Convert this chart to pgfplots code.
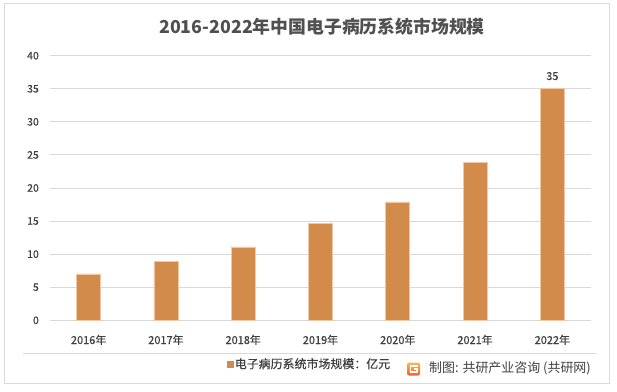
\documentclass[border=0pt]{standalone}
\usepackage{fontspec}
\setmainfont{Noto Sans CJK SC}
\newfontfamily\semib[FakeBold=0.7]{Noto Sans CJK SC}
\usepackage{pgfplots}
\pgfplotsset{compat=1.18}
\definecolor{barc}{RGB}{211,139,76}
\definecolor{bare}{RGB}{240,200,165}
\definecolor{gridc}{RGB}{217,217,217}
\definecolor{txt}{RGB}{64,64,64}
\definecolor{ttl}{RGB}{80,80,80}
\definecolor{logoa}{RGB}{250,185,75}
\definecolor{logob}{RGB}{238,100,45}
\begin{document}
\begin{tikzpicture}[x=1bp,y=1bp]
\useasboundingbox (0,0) rectangle (617,391);
\draw[gridc, line width=0.9bp] (4,8) rectangle (609,388);
\node[font=\fontsize{17.9}{20}\selectfont\bfseries, text=ttl] at (322,364.3) {2016-2022年中国电子病历系统市场规模};
\draw[gridc, line width=0.9bp] (23,37.7) -- (596,37.7);
\begin{axis}[
  at={(50bp,70.7bp)}, anchor=south west,
  scale only axis, width=541bp, height=264.6bp,
  xmin=-0.5, xmax=6.5, ymin=0, ymax=40,
  ytick={0,5,...,40},
  xtick={0,...,6},
  xticklabels={2016年,2017年,2018年,2019年,2020年,2021年,2022年},
  axis line style={draw=none},
  tick style={draw=none},
  ymajorgrids, grid style={gridc, line width=0.9bp},
  /pgf/number format/assume math mode=true,
  xticklabel style={font=\semib\fontsize{11}{13}\selectfont, text=txt, anchor=base, yshift=-23.7bp},
  yticklabel style={font=\semib\fontsize{10.5}{12}\selectfont, text=txt, anchor=east, inner sep=0pt, xshift=-11bp},
  legend style={draw=none, fill=none, at={(0.3266,-0.165)}, anchor=west, inner sep=0pt, outer sep=0pt,
    nodes={inner sep=1.5bp, font=\semib\fontsize{12}{14}\selectfont, text=txt}},
  legend image code/.code={\fill[barc] (0bp,-3bp) rectangle (6bp,3bp);},
  clip=false,
]
\addplot[ybar, bar width=24bp, fill=barc, draw=bare, line width=0.6bp,
  point meta=explicit symbolic,
  nodes near coords, every node near coord/.append style={font=\semib\fontsize{11}{13}\selectfont, text=txt, yshift=5bp}]
  coordinates {(0,7.0) [] (1,8.9) [] (2,11.1) [] (3,14.7) [] (4,17.9) [] (5,23.9) [] (6,35) [35]};
\addlegendentry{电子病历系统市场规模：亿元}
\end{axis}
% logo
\begin{scope}[shift={(413.5,22)}]
\shade[top color=logoa, bottom color=logob, rounded corners=2bp] (-6.5,-6.5) rectangle (6.5,6.5);
\draw[white, line width=1.6bp] (4,3.2) -- (-3.2,3.2) -- (-3.2,-3.2) -- (3.2,-3.2) -- (3.2,0.2) -- (0.5,0.2);
\end{scope}
\node[anchor=west, inner sep=0pt, font=\fontsize{13}{15}\selectfont, text=txt] at (429,23) {制图: 共研产业咨询 (共研网)};
\end{tikzpicture}
\end{document}
